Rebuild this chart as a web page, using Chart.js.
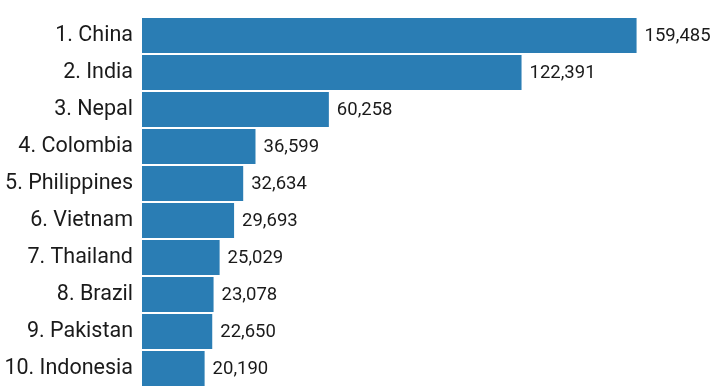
<!DOCTYPE html>
<html>
<head>
<meta charset="utf-8">
<script src="https://cdn.jsdelivr.net/npm/chart.js@4"></script>
<style>
  html, body { margin: 0; padding: 0; background: #fff; }
  #wrap { width: 725px; height: 387px; }
</style>
</head>
<body>
<div id="wrap"><canvas id="grafico"></canvas></div>
<script>
// Datos
const paises = ["1. China", "2. India", "3. Nepal", "4. Colombia", "5. Philippines",
    "6. Vietnam", "7. Thailand", "8. Brazil", "9. Pakistan", "10. Indonesia"];
const valores = [159485, 122391, 60258, 36599, 32634, 29693, 25029, 23078, 22650, 20190];

const colorBarra = "#2a7db4";
const colorTexto = "#1a1a1a";

// Etiquetas al final de cada barra
const etiquetasValor = {
    id: "etiquetasValor",
    afterDatasetsDraw(chart) {
        const { ctx } = chart;
        const meta = chart.getDatasetMeta(0);
        ctx.save();
        ctx.font = "18.5px Roboto";
        ctx.fillStyle = colorTexto;
        ctx.textAlign = "left";
        ctx.textBaseline = "middle";
        meta.data.forEach((bar, i) => {
            ctx.fillText(valores[i].toLocaleString("en-US"), bar.x + 8, bar.y + 1);
        });
        ctx.restore();
    }
};

new Chart(document.getElementById("grafico"), {
    type: "bar",
    data: {
        labels: paises,
        datasets: [{
            data: valores,
            backgroundColor: colorBarra,
            borderWidth: 0,
            barPercentage: 0.946,
            categoryPercentage: 1
        }]
    },
    options: {
        indexAxis: "y",
        responsive: true,
        maintainAspectRatio: false,
        animation: false,
        layout: { padding: { top: 17, right: 0, bottom: 0, left: 0 } },
        scales: {
            x: {
                display: false,
                min: 0,
                max: 188000
            },
            y: {
                grid: { display: false, drawTicks: false },
                border: { display: false },
                ticks: {
                    color: colorTexto,
                    font: { family: "Roboto", size: 21.5 },
                    padding: 9
                },
                afterFit(scale) {
                    scale.width = 142;
                    scale.paddingTop = 0;
                    scale.paddingBottom = 0;
                }
            }
        },
        plugins: {
            legend: { display: false },
            tooltip: { enabled: false }
        }
    },
    plugins: [etiquetasValor]
});
</script>
</body>
</html>
